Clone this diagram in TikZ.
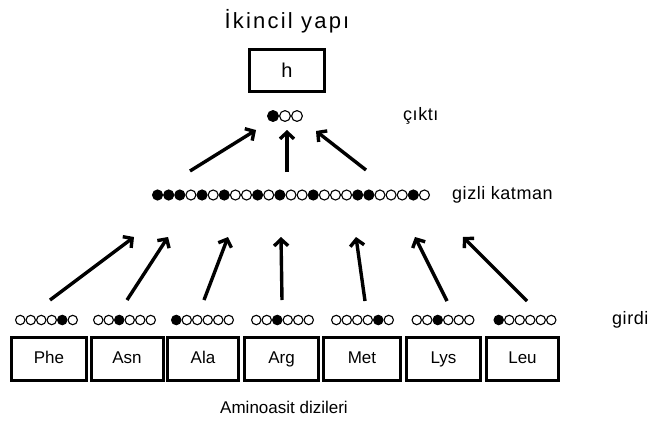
\documentclass[tikz,border=0pt]{standalone}
\usepackage{fontspec}
\setmainfont{Liberation Sans}
\newfontfamily\titlefont[LetterSpace=10]{Liberation Sans}
\newfontfamily\labelfont[LetterSpace=3]{Liberation Sans}
\usetikzlibrary{arrows.meta}
\begin{document}
\begin{tikzpicture}[x=1pt,y=-1pt,
  cell/.style={circle,draw=black,line width=1.1pt,inner sep=0pt},
  on/.style={cell,fill=black},
  off/.style={cell,fill=white},
  resbox/.style={draw=black,line width=3pt,minimum height=43pt,inner sep=0pt,
    text height=12.5pt,text depth=3.5pt,font=\fontsize{17}{20}\selectfont},
  label/.style={inner sep=0pt,font=\labelfont\fontsize{18}{21}\selectfont},
  link/.style={line width=3.4pt,-{Straight Barb[length=6.5pt,width=14pt,line width=3.4pt]}}]
\useasboundingbox (0,0) rectangle (649,421);

% title and predicted structure
\node[inner sep=0pt,font=\titlefont\fontsize{22}{25}\selectfont] (title) at (287,21) {İkincil yapı};
\node[draw=black,line width=3pt,minimum width=75pt,minimum height=42pt,inner sep=0pt,
  font=\fontsize{20}{23}\selectfont] (pred) at (287,70.5) {h};

% output layer
\begin{scope}[cell/.append style={minimum size=10.8pt}]
  \foreach \s [count=\i] in {on,off,off}
    \node[\s] (o\i) at ({285+12*(\i-2)},116) {};
\end{scope}
\node[label,anchor=west] (outlbl) at (403,116) {çıktı};

% hidden layer
\begin{scope}[cell/.append style={minimum size=10pt}]
  \foreach \s [count=\i] in {on,on,on,off,on,off,on,off,off,on,off,on,off,off,on,off,off,off,on,on,off,off,off,on,off}
    \node[\s] (h\i) at ({152+11.12*(\i-0.5)},195) {};
\end{scope}
\node[label,anchor=west] (hidlbl) at (452,195) {gizli katman};

% input windows, one-hot encoded residues
\begin{scope}[cell/.append style={minimum size=9.4pt}]
  \foreach \g/\cx/\pat in {1/46.5/{off,off,off,off,on,off},
                           2/124.5/{off,off,on,off,off,off},
                           3/202.5/{on,off,off,off,off,off},
                           4/282.5/{off,off,on,off,off,off},
                           5/362.5/{off,off,off,off,on,off},
                           6/443/{off,off,on,off,off,off},
                           7/525/{on,off,off,off,off,off}}
    \foreach \s [count=\i] in \pat
      \node[\s] (in\g-\i) at ({\cx+10.5*(\i-3.5)},320) {};
\end{scope}
\node[label,anchor=west] (inlbl) at (612,320) {girdi};

% amino acid sequence
\foreach \g/\cx/\w/\name in {1/49/75/Phe,2/127/72/Asn,3/203/71/Ala,4/281.5/74/Arg,
                             5/362/77/Met,6/443.5/74/Lys,7/522.5/72/Leu}
  \node[resbox,minimum width=\w pt] (r\g) at (\cx,359) {\name};
\node[inner sep=0pt,font=\fontsize{17}{20}\selectfont] (seqlbl) at (284,407) {Aminoasit dizileri};

% connector ends
\coordinate (t1) at (50,300);   \coordinate (e1) at (134,237);
\coordinate (t2) at (127,300);  \coordinate (e2) at (168,237);
\coordinate (t3) at (204,300);  \coordinate (e3) at (228,237);
\coordinate (t4) at (282,300);  \coordinate (e4) at (281,237);
\coordinate (t5) at (365,301);  \coordinate (e5) at (356,237);
\coordinate (t6) at (447,301);  \coordinate (e6) at (415,237);
\coordinate (t7) at (527,301);  \coordinate (e7) at (463,237);
\coordinate (u1) at (190,171);  \coordinate (f1) at (256,130);
\coordinate (u2) at (287,172);  \coordinate (f2) at (287,130);
\coordinate (u3) at (366,170);  \coordinate (f3) at (316,131);

% input -> hidden
\foreach \k in {1,...,7}
  \draw[link] (t\k) -- (e\k);
% hidden -> output
\foreach \k in {1,2,3}
  \draw[link] (u\k) -- (f\k);
\end{tikzpicture}
\end{document}
